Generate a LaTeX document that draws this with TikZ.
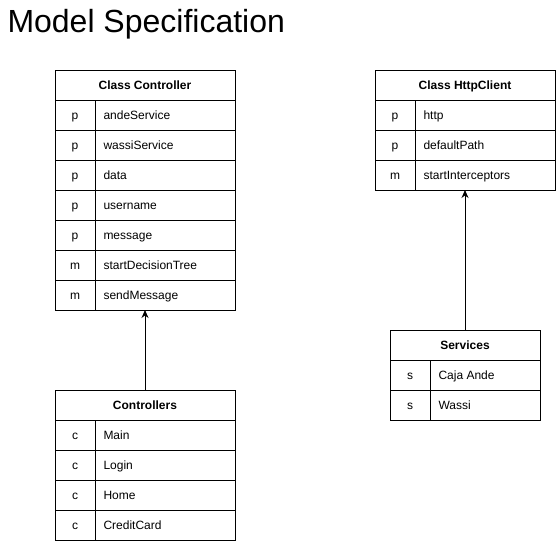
\documentclass[tikz,border=0pt]{standalone}
\usepackage{fontspec}
\setmainfont{Liberation Sans}
\usetikzlibrary{calc}
\usetikzlibrary{arrows.meta}

\begin{document}
\begin{tikzpicture}[x=1pt,y=-1pt,line width=1pt,
        cell/.style={font=\fontsize{12}{14}\selectfont,inner sep=0pt},
        head/.style={font=\bfseries\fontsize{12}{14}\selectfont,inner sep=0pt},
        frame/.style={draw,minimum width=#1,minimum height=30,anchor=north west,inner sep=0pt,outer sep=0pt}]
    \useasboundingbox (0,0) rectangle (557,541);
    \node[anchor=base west,inner sep=0pt,font=\fontsize{32}{36}\selectfont] (title) at (7,32) {Model Specification};

    % Class Controller
    \coordinate (A) at (55,70);
    \node[frame=180,minimum height=240] (ctrlbox) at (A) {};
    \node[head,anchor=base] (ctrlhead) at ($(A)+(90,19.5)$) {Class Controller};
    \foreach \k/\n [count=\i] in {p/andeService,p/wassiService,p/data,p/username,p/message,m/startDecisionTree,m/sendMessage} {
        \draw ($(A)+(0,30*\i)$) -- ++(180,0);
        \node[cell,anchor=base] (ck\i) at ($(A)+(20,30*\i+19.5)$) {\k};
        \node[cell,anchor=base west] (cn\i) at ($(A)+(48,30*\i+19.5)$) {\n};
    }
    \draw ($(A)+(40,30)$) -- ($(A)+(40,240)$);

    % Controllers
    \coordinate (B) at (55,390);
    \node[frame=180,minimum height=150] (ctrlsbox) at (B) {};
    \node[head,anchor=base] (ctrlshead) at ($(B)+(90,19.5)$) {Controllers};
    \foreach \k/\n [count=\i] in {c/Main,c/Login,c/Home,c/CreditCard} {
        \draw ($(B)+(0,30*\i)$) -- ++(180,0);
        \node[cell,anchor=base] (sk\i) at ($(B)+(20,30*\i+19.5)$) {\k};
        \node[cell,anchor=base west] (sn\i) at ($(B)+(48,30*\i+19.5)$) {\n};
    }
    \draw ($(B)+(40,30)$) -- ($(B)+(40,150)$);

    % Class HttpClient
    \coordinate (H) at (375,70);
    \node[frame=180,minimum height=120] (httpbox) at (H) {};
    \node[head,anchor=base] (httphead) at ($(H)+(90,19.5)$) {Class HttpClient};
    \foreach \k/\n [count=\i] in {p/http,p/defaultPath,m/startInterceptors} {
        \draw ($(H)+(0,30*\i)$) -- ++(180,0);
        \node[cell,anchor=base] (hk\i) at ($(H)+(20,30*\i+19.5)$) {\k};
        \node[cell,anchor=base west] (hn\i) at ($(H)+(48,30*\i+19.5)$) {\n};
    }
    \draw ($(H)+(40,30)$) -- ($(H)+(40,120)$);

    % Services
    \coordinate (S) at (390,330);
    \node[frame=150,minimum height=90] (servbox) at (S) {};
    \node[head,anchor=base] (servhead) at ($(S)+(75,19.5)$) {Services};
    \foreach \k/\n [count=\i] in {s/Caja Ande,s/Wassi} {
        \draw ($(S)+(0,30*\i)$) -- ++(150,0);
        \node[cell,anchor=base] (vk\i) at ($(S)+(20,30*\i+19.5)$) {\k};
        \node[cell,anchor=base west] (vn\i) at ($(S)+(48,30*\i+19.5)$) {\n};
    }
    \draw ($(S)+(40,30)$) -- ($(S)+(40,90)$);

    \draw[-{Stealth[length=8pt,width=7pt]}] (ctrlsbox.north) -- (ctrlbox.south);
    \draw[-{Stealth[length=8pt,width=7pt]}] (servbox.north) -- (httpbox.south);
\end{tikzpicture}
\end{document}
